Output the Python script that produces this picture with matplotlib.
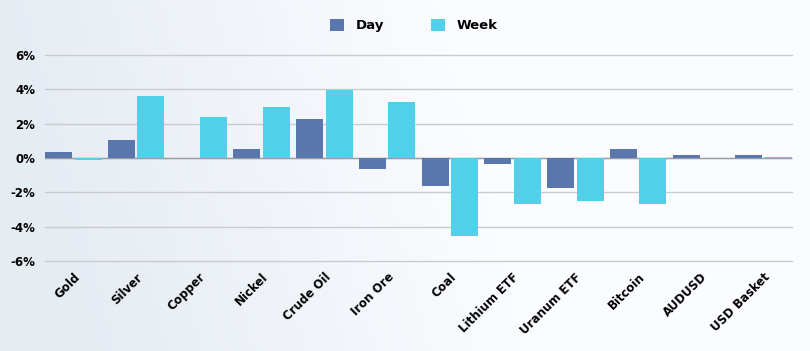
import numpy as np
import matplotlib.pyplot as plt

# daily / weekly % change by asset
assets = ['Gold', 'Silver', 'Copper', 'Nickel', 'Crude Oil', 'Iron Ore', 'Coal',
          'Lithium ETF', 'Uranum ETF', 'Bitcoin', 'AUDUSD', 'USD Basket']
day = [0.37, 1.08, 0.0, 0.52, 2.27, -0.64, -1.63, -0.32, -1.75, 0.52, 0.15, 0.17]
week = [-0.10, 3.60, 2.42, 2.97, 3.99, 3.26, -4.54, -2.65, -2.50, -2.68, 0.02, 0.07]
yticks = [-6, -4, -2, 0, 2, 4, 6]

day_col = '#5a77ad'
week_col = '#52cfe9'

fig = plt.figure(figsize=(8.1, 3.51), dpi=100)

# soft background gradient
bg = fig.add_axes([0, 0, 1, 1], zorder=-10)
xx, yy = np.meshgrid(np.linspace(0, 1, 200), np.linspace(0, 1, 100))
g = np.clip(1 - 1.8 * xx + 0.2 * yy, 0, 1) * 0.8
base = np.array([0.985, 0.99, 1.0])
tint = np.array([0.88, 0.91, 0.94])
img = base[None, None, :] * (1 - g[..., None]) + tint[None, None, :] * g[..., None]
bg.imshow(img, aspect='auto', extent=[0, 1, 0, 1], origin='upper')
bg.axis('off')

ax = fig.add_axes([0.0556, 0.2564, 0.922, 0.5866])
ax.set_facecolor('none')
x = np.arange(len(assets))
w = 0.43
ax.bar(x - 0.235, day, width=w, color=day_col, label='Day', zorder=3)
ax.bar(x + 0.235, week, width=w, color=week_col, label='Week', zorder=3)

ax.set_xlim(-0.45, 11.45)
ax.set_ylim(-6, 6)
ax.set_yticks(yticks)
ax.set_yticklabels([f'{t}%' for t in yticks], fontsize=8.5, fontweight='bold')
for t in yticks:
    ax.axhline(t, color='#c9cbd0', linewidth=1, zorder=0, clip_on=False)
ax.axhline(0, color='#9a9da4', linewidth=1, zorder=2)
for s in ax.spines.values():
    s.set_visible(False)
ax.tick_params(axis='both', length=0, pad=7)
ax.set_xticks(x)
ax.set_xticklabels(assets, rotation=45, ha='right', rotation_mode='anchor',
                   fontsize=8.5, fontweight='bold')

fig.legend(loc='upper center', bbox_to_anchor=(0.511, 0.98), ncol=2, frameon=False,
           prop={'weight': 'bold', 'size': 9.5}, handlelength=1, handleheight=1,
           columnspacing=3.6, handletextpad=0.9)

fig.savefig('out.png', dpi=100)
